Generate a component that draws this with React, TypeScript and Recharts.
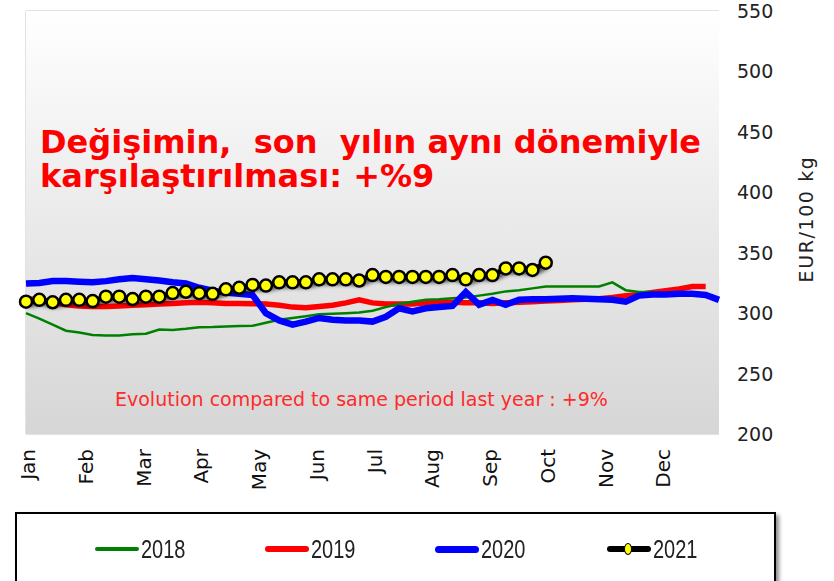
import React from 'react';
import { LineChart, Line, XAxis, YAxis, CartesianGrid, ReferenceArea } from 'recharts';

// weekly prices, EUR/100 kg (week 0 = start of January)
const s2018 = [300, 295.5, 290.5, 285.5, 284, 282, 281.5, 281.5, 282.5, 283, 286.5, 286, 287, 288.3, 288.5, 289, 289.4, 289.5, 292, 294.5, 296, 297.5, 299, 299.5, 300, 300.5, 302, 305, 307.5, 309.5, 311, 311.5, 312.3, 313, 314.5, 316, 318, 319, 320.5, 322, 322, 322, 322, 322, 325.5, 319, 317.5, 317.5, 316.5, 316, 315.5, 315.5];
const s2019 = [312, 311, 309, 307, 306, 305.5, 305.5, 306, 306.5, 307, 307.5, 308, 308.5, 309, 308.5, 308, 308, 307.8, 307.5, 306.5, 305, 304.5, 305.5, 306.5, 308.5, 311, 308.5, 307.5, 307.5, 307.5, 308.5, 309.5, 309, 308.7, 308.5, 308, 308.5, 309, 309.5, 310, 310.5, 311, 311.5, 312, 313, 314.5, 315.5, 317, 318.5, 320, 322, 322];
const s2020 = [324.5, 325, 326.5, 326.5, 326, 325.5, 326.5, 328, 329, 328, 327, 325.5, 324.5, 321, 318.5, 317, 316, 315, 300, 294, 290.5, 293, 296, 294.5, 294, 294, 293, 297, 304, 301.5, 304, 305, 306, 317.5, 307, 311, 307, 311, 311.5, 311.5, 312, 312.3, 312, 311.5, 311, 309.5, 314.5, 315.5, 315.5, 316, 316, 315, 311];
const s2021 = [309.5, 311, 309, 311, 311, 310, 313.6, 313.6, 311.7, 313.6, 313.6, 316.6, 317.7, 316.5, 316, 319.7, 321, 323.3, 322.8, 325.5, 325.5, 325.5, 328, 328, 328, 327, 331.5, 330, 330, 330, 330, 330, 331.5, 328, 331.5, 331.5, 337, 337, 335.7, 341.7];

const months = ['Jan', 'Feb', 'Mar', 'Apr', 'May', 'Jun', 'Jul', 'Aug', 'Sep', 'Oct', 'Nov', 'Dec'];
const yTicks = [200, 250, 300, 350, 400, 450, 500, 550];

const WEEKS = 52;
const monthTicks = months.map((_, i) => (i * WEEKS) / 12);

const data = Array.from({ length: WEEKS + 1 }, (_, w) => ({
    w,
    y2018: s2018[w],
    y2019: s2019[w],
    y2020: s2020[w],
    y2021: s2021[w],
}));

const MonthTick = (props: any) => {
    const { x, index } = props;
    return (
        <text
            transform={`translate(${x + 9},449) rotate(-90)`}
            textAnchor="end"
            fontFamily="DejaVu Sans"
            fontSize={20}
            fill="#111"
        >
            {months[index]}
        </text>
    );
};

const PriceTick = (props: any) => {
    const { y, payload } = props;
    return (
        <text x={737} y={y} dy={7} fontFamily="DejaVu Sans" fontSize={19} fill="#222">
            {payload.value}
        </text>
    );
};

const YellowDot = (props: any) => {
    const { cx, cy, index } = props;
    if (cx == null || cy == null) return null;
    return <circle key={index} cx={cx} cy={cy} r={6} fill="#ffff00" stroke="#000" strokeWidth={2.5} />;
};

const legendItems = [
    { label: '2018', color: '#008000', x: 95, w: 4 },
    { label: '2019', color: '#ff0000', x: 265, w: 6 },
    { label: '2020', color: '#0000ff', x: 435, w: 7 },
    { label: '2021', color: '#000000', x: 607, w: 6, dot: true },
];

export default function App() {
    return (
        <div style={{ position: 'absolute', left: 0, top: 0, width: 834, height: 581, background: '#fff', overflow: 'hidden' }}>
            <style>{`.s2021 { filter: drop-shadow(2px 3px 2px rgba(0,0,0,0.75)); }`}</style>
            <svg width={0} height={0} style={{ position: 'absolute' }}>
                <defs>
                    <linearGradient id="plotBg" x1="0" y1="0" x2="0" y2="1">
                        <stop offset="0%" stopColor="#ffffff" />
                        <stop offset="45%" stopColor="#ececec" />
                        <stop offset="100%" stopColor="#d6d6d6" />
                    </linearGradient>
                </defs>
            </svg>
            <LineChart width={834} height={581} data={data} margin={{ top: 11, left: 26, right: 0, bottom: 0 }}>
                <ReferenceArea x1={0} x2={WEEKS} y1={200} y2={550} fill="url(#plotBg)" fillOpacity={1} stroke="none" />
                <CartesianGrid stroke="#d8d8d8" strokeWidth={1.5} verticalValues={monthTicks} horizontalValues={yTicks} />
                <XAxis
                    dataKey="w"
                    type="number"
                    domain={[0, WEEKS]}
                    ticks={monthTicks}
                    interval={0}
                    axisLine={false}
                    tickLine={false}
                    height={147}
                    tick={<MonthTick />}
                />
                <YAxis
                    orientation="right"
                    domain={[200, 550]}
                    ticks={yTicks}
                    axisLine={false}
                    tickLine={false}
                    width={115}
                    tick={<PriceTick />}
                    label={() => (
                        <text
                            transform="translate(813,219) rotate(-90)"
                            textAnchor="middle"
                            fontFamily="DejaVu Sans"
                            fontSize={19}
                            letterSpacing={1.6}
                            fill="#222"
                        >
                            EUR/100 kg
                        </text>
                    )}
                />
                <Line dataKey="y2019" stroke="#ff0000" strokeWidth={5.5} dot={false} isAnimationActive={false} />
                <Line dataKey="y2018" stroke="#008000" strokeWidth={2.5} dot={false} isAnimationActive={false} />
                <Line dataKey="y2020" stroke="#0000ff" strokeWidth={6.5} dot={false} isAnimationActive={false} />
                <Line
                    dataKey="y2021"
                    className="s2021"
                    stroke="#000"
                    strokeWidth={5}
                    dot={<YellowDot />}
                    isAnimationActive={false}
                />
            </LineChart>

            <div
                style={{
                    position: 'absolute',
                    left: 40,
                    top: 125,
                    color: '#ff0000',
                    fontFamily: 'DejaVu Sans, sans-serif',
                    fontWeight: 'bold',
                    fontSize: 32,
                    lineHeight: '34px',
                    whiteSpace: 'pre',
                }}
            >
                {'Değişimin,  son  yılın aynı dönemiyle\nkarşılaştırılması: +%9'}
            </div>

            <div
                style={{
                    position: 'absolute',
                    left: 115,
                    top: 388,
                    color: '#ff2a2a',
                    fontFamily: 'DejaVu Sans',
                    fontSize: 19,
                    whiteSpace: 'pre',
                }}
            >
                Evolution compared to same period last year : +9%
            </div>

            <div
                style={{
                    position: 'absolute',
                    left: 15,
                    top: 512,
                    width: 757,
                    height: 90,
                    border: '2px solid #000',
                    background: '#fff',
                    boxShadow: '3px 3px 4px rgba(0,0,0,0.45)',
                }}
            />
            {legendItems.map((it) => (
                <div key={it.label} style={{ position: 'absolute', left: it.x, top: 536, height: 26, display: 'flex', alignItems: 'center' }}>
                    <div style={{ position: 'relative', width: 44, height: it.w, background: it.color, borderRadius: it.w / 2 }}>
                        {it.dot && (
                            <div
                                style={{
                                    position: 'absolute',
                                    left: 17,
                                    top: -3,
                                    width: 8,
                                    height: 12,
                                    borderRadius: '50%',
                                    background: '#ffff00',
                                    border: '1px solid #000',
                                    boxSizing: 'border-box',
                                }}
                            />
                        )}
                    </div>
                    <span
                        style={{
                            fontFamily: 'Liberation Sans',
                            fontSize: 25,
                            color: '#222',
                            marginLeft: 2,
                            display: 'inline-block',
                            transform: 'scaleX(0.8)',
                            transformOrigin: 'left center',
                        }}
                    >
                        {it.label}
                    </span>
                </div>
            ))}
        </div>
    );
}
